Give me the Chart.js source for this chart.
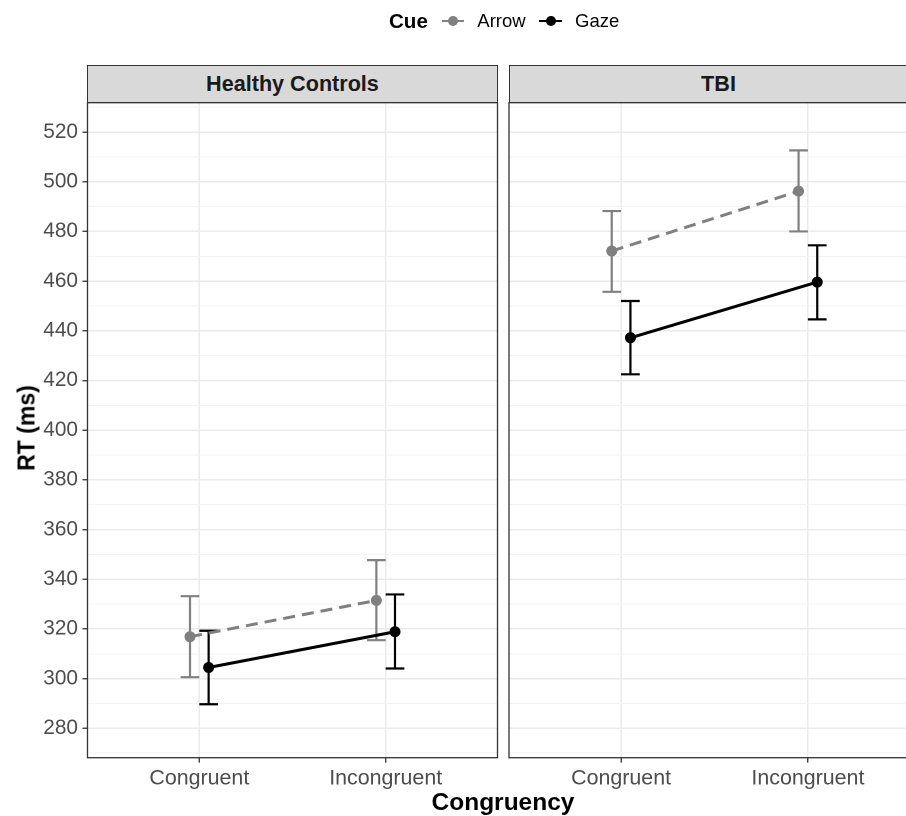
<!DOCTYPE html>
<html><head><meta charset="utf-8">
<script src="https://cdn.jsdelivr.net/npm/chart.js@4.4.0/dist/chart.umd.min.js"></script>
<style>
html,body{margin:0;padding:0;background:#fff;overflow:hidden;width:906px;height:816px;}
#wrap{position:relative;width:906px;height:816px;overflow:hidden;font-family:"Liberation Sans",Arial,sans-serif;}
canvas{position:absolute;top:0;}
.abs{position:absolute;white-space:nowrap;}
.strip{position:absolute;top:65px;height:38px;box-sizing:border-box;border:1.3px solid #333;background:#d9d9d9;color:#1a1a1a;font-weight:bold;font-size:21.6px;display:flex;align-items:center;justify-content:center;}
.vc{transform:translateY(-50%);}
</style></head>
<body><div id="wrap">
<canvas id="c1" width="500" height="816" style="left:0px;width:500px;height:816px"></canvas>
<canvas id="c2" width="412" height="816" style="left:508px;width:412px;height:816px"></canvas>
<div class="strip" id="s1" style="left:87px;width:411px;"></div>
<div class="strip" id="s2" style="left:508.5px;width:420px;"></div>
<div class="abs vc" style="left:389px;top:21px;font-weight:bold;font-size:20.6px;color:#000;">Cue</div>
<div class="abs" style="left:441.7px;top:19.5px;width:22.6px;height:2.5px;background:#808080;"></div>
<div class="abs" style="left:447.5px;top:15.5px;width:10.5px;height:10.5px;border-radius:50%;background:#808080;"></div>
<div class="abs vc" id="lgA" style="left:477.3px;top:21px;font-size:18.5px;color:#000;"></div>
<div class="abs" style="left:539px;top:19.5px;width:23px;height:2.5px;background:#000;"></div>
<div class="abs" style="left:545.5px;top:15.5px;width:10.5px;height:10.5px;border-radius:50%;background:#000;"></div>
<div class="abs vc" id="lgG" style="left:575px;top:21px;font-size:18.5px;color:#000;"></div>
<div class="abs" style="left:503px;top:802px;transform:translate(-50%,-50%);font-weight:bold;font-size:24.5px;color:#000;">Congruency</div>
<div class="abs" style="left:27px;top:428px;transform:translate(-50%,-50%) rotate(-90deg);font-weight:bold;font-size:23px;color:#000;">RT (ms)</div>
</div>
<script>
// ---- data ----
const categories = ['Congruent', 'Incongruent'];
const panels = ['Healthy Controls', 'TBI'];
const cues = ['Arrow', 'Gaze'];
const hcArrowMean = [316.9, 331.5];
const hcArrowLow  = [300.6, 315.5];
const hcArrowHigh = [333.2, 347.7];
const hcGazeMean  = [304.5, 318.9];
const hcGazeLow   = [289.7, 304.1];
const hcGazeHigh  = [319.3, 333.9];
const tbiArrowMean = [472.1, 496.2];
const tbiArrowLow  = [455.7, 480.0];
const tbiArrowHigh = [488.2, 512.6];
const tbiGazeMean  = [437.2, 459.6];
const tbiGazeLow   = [422.5, 444.6];
const tbiGazeHigh  = [452.0, 474.4];
const yTicks = [280, 300, 320, 340, 360, 380, 400, 420, 440, 460, 480, 500, 520];
const yGrid = [270, 280, 290, 300, 310, 320, 330, 340, 350, 360, 370, 380, 390, 400, 410, 420, 430, 440, 450, 460, 470, 480, 490, 500, 510, 520, 530];

document.getElementById('s1').textContent = panels[0];
document.getElementById('s2').textContent = panels[1];
document.getElementById('lgA').textContent = cues[0];
document.getElementById('lgG').textContent = cues[1];

const FONT = '"Liberation Sans", Arial, sans-serif';
const DODGE = 0.05, ERR_HALF = 0.05;
const GREY = '#808080';

const errorBars = {
  id: 'errorBars',
  beforeDatasetsDraw(chart) {
    const ctx = chart.ctx, xs = chart.scales.x, ys = chart.scales.y;
    chart.data.datasets.forEach(ds => {
      ctx.save();
      ctx.strokeStyle = ds.borderColor; ctx.lineWidth = 2.2; ctx.setLineDash([]);
      ds.data.forEach((p, i) => {
        const x = xs.getPixelForValue(p.x);
        const xl = xs.getPixelForValue(p.x - ERR_HALF), xr = xs.getPixelForValue(p.x + ERR_HALF);
        const yl = ys.getPixelForValue(ds.low[i]), yh = ys.getPixelForValue(ds.high[i]);
        ctx.beginPath();
        ctx.moveTo(x, yl); ctx.lineTo(x, yh);
        ctx.moveTo(xl, yl); ctx.lineTo(xr, yl);
        ctx.moveTo(xl, yh); ctx.lineTo(xr, yh);
        ctx.stroke();
      });
      ctx.restore();
    });
  }
};
const panelBorder = {
  id: 'panelBorder',
  afterDraw(chart) {
    const a = chart.chartArea, ctx = chart.ctx;
    ctx.save(); ctx.strokeStyle = '#333'; ctx.lineWidth = 1.3;
    ctx.strokeRect(a.left, a.top, a.right - a.left, a.bottom - a.top);
    ctx.restore();
  }
};

function makePanel(id, aMean, aLow, aHigh, gMean, gLow, gHigh, showY) {
  const ds = (label, mean, low, high, color, dash) => ({
    label, data: categories.map((c, i) => ({ x: i + 1 + (label === cues[0] ? -DODGE : DODGE), y: mean[i] })),
    low, high, borderColor: color, backgroundColor: color, borderWidth: 3, borderDash: dash,
    pointRadius: 5.5, pointBorderWidth: 0, pointHoverRadius: 5.5, showLine: true, tension: 0, fill: false
  });
  const isMajor = v => yTicks.includes(v);
  return new Chart(document.getElementById(id), {
    type: 'line',
    data: { datasets: [ds(cues[0], aMean, aLow, aHigh, GREY, [12, 7]), ds(cues[1], gMean, gLow, gHigh, '#000', [])] },
    options: {
      responsive: false, animation: false, devicePixelRatio: 2,
      layout: { autoPadding: false, padding: showY ? { top: 102.7, right: 2.5, left: 0, bottom: 0 } : { top: 102.7, right: 0, left: 1, bottom: 0 } },
      plugins: { legend: { display: false }, tooltip: { enabled: false } },
      scales: {
        x: {
          type: 'linear', min: 0.4, max: 2.6,
          afterBuildTicks: s => { s.ticks = categories.map((c, i) => ({ value: i + 1 })); },
          afterFit: s => { s.height = 58.3; },
          ticks: { callback: v => categories[Math.round(v) - 1] || '', autoSkip: false, maxRotation: 0, color: '#4d4d4d', font: { family: FONT, size: 21.4 }, padding: 3 },
          grid: { color: '#ebebeb', lineWidth: 1.5, tickColor: '#333', tickLength: 5, tickWidth: 1.3 },
          border: { display: false }
        },
        y: {
          type: 'linear', min: 268.2, max: 531.8,
          afterBuildTicks: s => { s.ticks = yGrid.map(v => ({ value: v })); },
          afterFit: s => { s.width = showY ? 87.5 : 0; },
          ticks: { display: showY, autoSkip: false, callback: v => isMajor(v) ? String(v) : '', color: '#4d4d4d', font: { family: FONT, size: 20.8 }, padding: 4.5 },
          grid: {
            color: c => isMajor(c.tick.value) ? '#ebebeb' : '#f2f2f2',
            lineWidth: c => isMajor(c.tick.value) ? 1.5 : 1,
            drawTicks: showY, tickLength: 5, tickWidth: 1.3,
            tickColor: c => isMajor(c.tick.value) ? '#333' : 'rgba(0,0,0,0)'
          },
          border: { display: false }
        }
      }
    },
    plugins: [errorBars, panelBorder]
  });
}
makePanel('c1', hcArrowMean, hcArrowLow, hcArrowHigh, hcGazeMean, hcGazeLow, hcGazeHigh, true);
makePanel('c2', tbiArrowMean, tbiArrowLow, tbiArrowHigh, tbiGazeMean, tbiGazeLow, tbiGazeHigh, false);
</script>
</body></html>
